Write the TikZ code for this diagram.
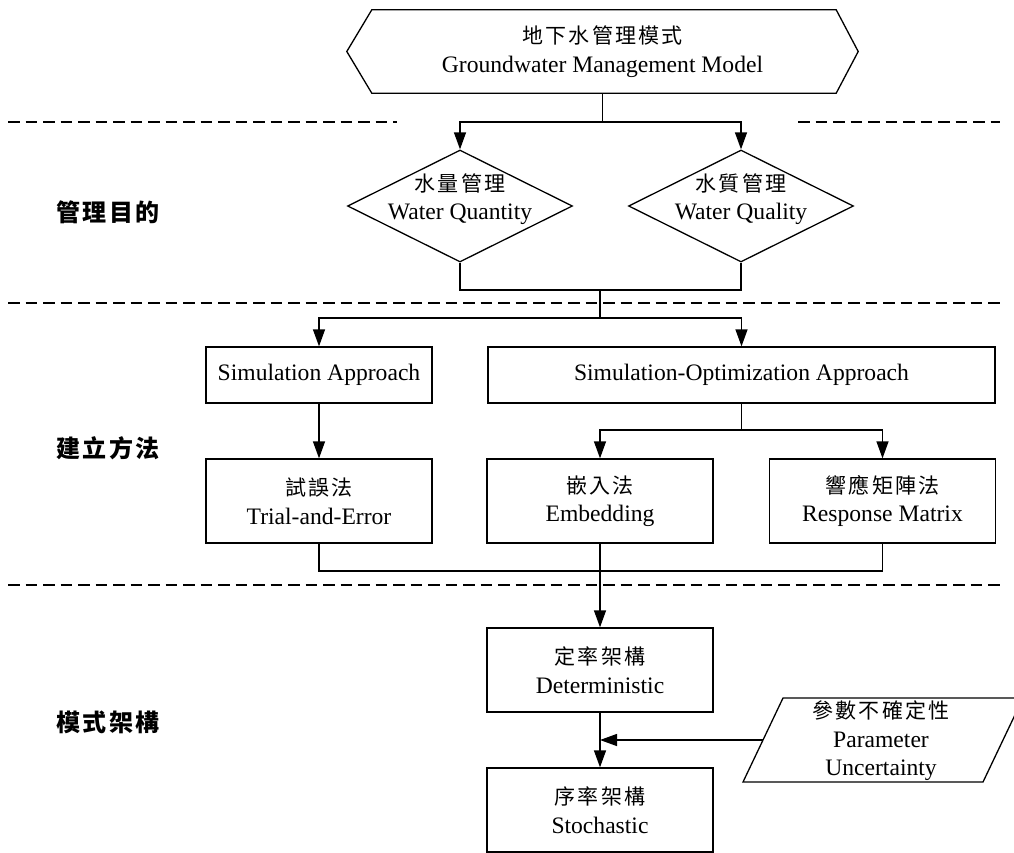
\documentclass[tikz,border=0pt]{standalone}
\usepackage{fontspec}
\setmainfont{Liberation Serif}
\newfontfamily\cjkface[LetterSpace=10]{Noto Sans CJK TC}
\newfontfamily\cjkhead[LetterSpace=9]{Noto Sans CJK TC}
\newcommand{\cjk}{\fontsize{21}{28.5}\selectfont\cjkface}
\usetikzlibrary{arrows.meta,shapes.geometric,calc}

\begin{document}
\begin{tikzpicture}[x=1pt,y=-1pt,
  every node/.style={font=\fontsize{23.6}{28.5}\selectfont, align=center, inner sep=0pt},
  stroke/.style={line width=1.3pt},
  box/.style={stroke, draw, minimum width=226pt, minimum height=84pt},
  flatbox/.style={stroke, draw, minimum height=56pt},
  choice/.style={stroke, draw, diamond, minimum width=225pt, minimum height=112pt},
  conn/.style={line width=1.3pt},
  arr/.style={conn, -{Triangle[length=17pt,width=12pt]}},
  sep/.style={line width=1.3pt, dash pattern=on 11.5pt off 6pt},
  lab/.style={font={\fontsize{24}{28}\selectfont\cjkhead\bfseries}},
]
\useasboundingbox (0,0) rectangle (1014,852);
\clip (0,0) rectangle (1014,852);

% layer separators
\draw[sep] (8,122) -- (397,122);
\draw[sep] (798,122) -- (1000,122);
\draw[sep] (8,303) -- (1000,303);
\draw[sep] (8,585) -- (1000,585);

% layer titles
\node[lab] (t1) at (108,212) {管理目的};
\node[lab] (t2) at (108,448) {建立方法};
\node[lab] (t3) at (108,722) {模式架構};

% top: management model (hexagon)
\node[minimum width=511pt, minimum height=83pt] (hex) at (602.5,51.5)
  {{\cjk 地下水管理模式}\\Groundwater Management Model};
\draw[stroke] (hex.west) -- ($(hex.north west)+(25,0)$) -- ($(hex.north east)+(-22,0)$)
  -- (hex.east) -- ($(hex.south east)+(-22,0)$) -- ($(hex.south west)+(25,0)$) -- cycle;

% objectives
\node[choice] (dq) at (460,206) {};
\node (dqt) at (460,199) {{\cjk 水量管理}\\Water Quantity};
\node[choice] (dl) at (741,206) {};
\node (dlt) at (741,199) {{\cjk 水質管理}\\Water Quality};

% approaches
\node[flatbox, minimum width=226pt] (sa) at (319,375) {Simulation Approach};
\node[flatbox, minimum width=507pt] (so) at (741.5,375) {Simulation-Optimization Approach};
\node[box] (te) at (319,501) {{\cjk 試誤法}\\Trial-and-Error};
\node[box] (em) at (600,501) {{\cjk 嵌入法}\\Embedding};
\node[box] (rm) at (882.5,501) {{\cjk 響應矩陣法}\\Response Matrix};

% model frameworks
\node[box] (dt) at (600,670) {{\cjk 定率架構}\\Deterministic};
\node[box] (st) at (600,810) {{\cjk 序率架構}\\Stochastic};

% parameter uncertainty (parallelogram)
\node (pu) at (881,741) {{\cjk 參數不確定性}\\Parameter\\Uncertainty};
\draw[stroke] (743,782) -- (983,782) -- (1023,698) -- (783,698) -- cycle;
\coordinate (pl) at (763,740);

% connectors
\coordinate (j1) at (hex.south |- 0,122);
\draw[conn] (hex.south) -- (j1);
\draw[arr] (j1) -| (dq.north);
\draw[arr] (j1) -| (dl.north);

\coordinate (j2) at (600,290);
\coordinate (j3) at (600,318);
\draw[conn] (dq.south) |- (j2);
\draw[conn] (dl.south) |- (j2);
\draw[conn] (j2) -- (j3);
\draw[arr] (j3) -| (sa.north);
\draw[arr] (j3) -| (so.north);

\draw[arr] (sa) -- (te);
\coordinate (j4) at (so.south |- 0,430);
\draw[conn] (so.south) -- (j4);
\draw[arr] (j4) -| (em.north);
\draw[arr] (j4) -| (rm.north);

\coordinate (j5) at (em.south |- 0,571);
\draw[conn] (te.south) |- (j5) -| (rm.south);
\draw[arr] (em.south) -- (dt.north);

\draw[arr] (dt) -- (st);
\draw[arr] (pl) -- (pl -| dt.south);
\end{tikzpicture}
\end{document}
